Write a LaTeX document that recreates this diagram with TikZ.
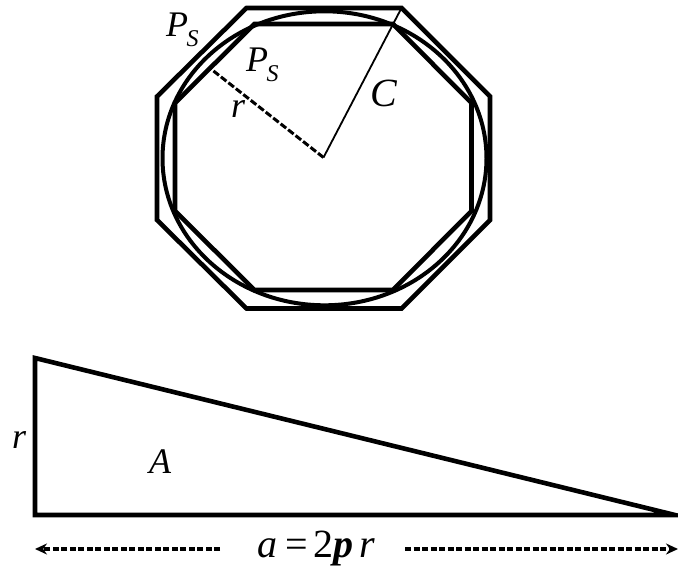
\documentclass[tikz,border=0pt]{standalone}
\usepackage{fontspec}
\setmainfont{Liberation Serif}
\usetikzlibrary{arrows.meta,calc}
\newcommand\myPS{P\kern-1.5pt\raisebox{-10pt}{\fontsize{24}{27}\selectfont S}}
\begin{document}
\begin{tikzpicture}[x=1pt,y=-1pt,
  heavy/.style={line width=4.6pt, line join=miter},
  lab/.style={inner sep=0pt, anchor=base west, font=\fontsize{36}{42}\selectfont\itshape},
  blab/.style={inner sep=0pt, anchor=base west, font=\fontsize{40}{46}\selectfont},
  rdash/.style={line width=3pt, dash pattern=on 7pt off 2.5pt},
  cline/.style={line width=1.8pt},
  dimarrow/.style={line width=3.2pt, dash pattern=on 6pt off 2.5pt, -{Stealth[length=12pt,width=11pt]}}
]
\useasboundingbox (0,0) rectangle (678,567);
% outer octagon
\coordinate (o1) at (246.5,8);
\coordinate (o2) at (401.5,8);
\coordinate (o3) at (490,96.5);
\coordinate (o4) at (490,220);
\coordinate (o5) at (401.5,308.5);
\coordinate (o6) at (246.5,308.5);
\coordinate (o7) at (157,220);
\coordinate (o8) at (157,96.5);
\draw[heavy] (o1) -- (o2) -- (o3) -- (o4) -- (o5) -- (o6) -- (o7) -- (o8) -- cycle;
% inner octagon
\coordinate (i1) at (254.5,24);
\coordinate (i2) at (393,24);
\coordinate (i3) at (471.5,103);
\coordinate (i4) at (471.5,211);
\coordinate (i5) at (393,290);
\coordinate (i6) at (254.5,290);
\coordinate (i7) at (175,211);
\coordinate (i8) at (175,103);
\draw[heavy] (i1) -- (i2) -- (i3) -- (i4) -- (i5) -- (i6) -- (i7) -- (i8) -- cycle;
% circle
\coordinate (ctr) at (323.5,157.5);
\draw[line width=4pt] (324.5,158.3) ellipse [x radius=162pt, y radius=147pt];
% radius lines
\coordinate (rend) at ($(i8)!0.44!(i1)$);
\draw[rdash] (ctr) -- (rend);
\draw[cline] (ctr) -- (o2);
% labels
\node[lab] (ps1) at (166,37) {\myPS};
\node[lab] (ps2) at (246,72) {\myPS};
\node[lab] (r1) at (231,118) {r};
\node[lab, font=\fontsize{40}{46}\selectfont\itshape] (c1) at (370,107) {C};
% triangle
\coordinate (t1) at (35,358);
\coordinate (t2) at (35,515);
\coordinate (t3) at (675,515);
\draw[heavy] (t1) -- (t2) -- (t3) -- cycle;
\node[lab] (a1) at (149,473) {A};
\node[lab] (r2) at (12,448) {r};
% dimension
\node[blab] (dim) at (257,557) {\textit{a}\hspace{8pt}=\hspace{6pt}2\textbf{\textit{p}}\hspace{6pt}\textit{r}};
\coordinate (dl0) at (220,549);
\coordinate (dl1) at (35,549);
\coordinate (dr0) at (405,549);
\coordinate (dr1) at (678,549);
\draw[dimarrow] (dl0) -- (dl1);
\draw[dimarrow] (dr0) -- (dr1);
\end{tikzpicture}
\end{document}
